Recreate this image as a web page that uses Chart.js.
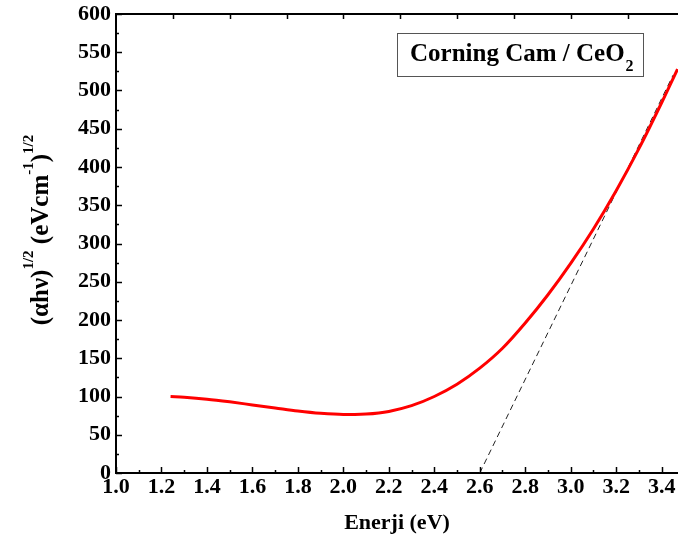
<!DOCTYPE html>
<html>
<head>
<meta charset="utf-8">
<script src="https://cdn.jsdelivr.net/npm/chart.js@4.4.1/dist/chart.umd.min.js"></script>
<style>
  html, body { margin: 0; padding: 0; background: #ffffff; overflow: hidden; }
  #wrap { width: 678px; height: 543px; position: relative; }
</style>
</head>
<body>
<div id="wrap"><canvas id="c" width="678" height="543"></canvas></div>
<script>
// ---- data ----
const energy = [1.24, 1.3, 1.4, 1.5, 1.6, 1.7, 1.8, 1.9, 2.0, 2.05, 2.1, 2.2, 2.3, 2.4, 2.5, 2.6, 2.7, 2.8, 2.9, 3.0, 3.1, 3.2, 3.3, 3.4, 3.47];
const absorption = [100, 99, 96.5, 93, 89, 85, 81, 78, 76.5, 76.5, 77, 80.5, 88, 100, 116, 137, 163, 196, 233, 274, 319, 369, 424, 484, 528];
const tangentX = [2.6, 3.45];
const tangentY = [0, 520];
const xTicks = [1.0, 1.2, 1.4, 1.6, 1.8, 2.0, 2.2, 2.4, 2.6, 2.8, 3.0, 3.2, 3.4];
const yTicks = [0, 50, 100, 150, 200, 250, 300, 350, 400, 450, 500, 550, 600];
const legendLabel = "Corning Cam / CeO";
const legendSub = "2";
const xTitle = "Enerji (eV)";

const FONT = '"Liberation Serif", "Times New Roman", serif';

const curvePts = energy.map((e, i) => ({ x: e, y: absorption[i] }));
const tangentPts = tangentX.map((e, i) => ({ x: e, y: tangentY[i] }));

const framePlugin = {
  id: 'frame',
  afterDraw(chart) {
    const ctx = chart.ctx;
    const xs = chart.scales.x, ys = chart.scales.y;
    const ca = chart.chartArea;
    ctx.save();
    ctx.strokeStyle = '#000';
    // top line
    ctx.lineWidth = 2;
    ctx.beginPath();
    ctx.moveTo(ca.left, ca.top);
    ctx.lineTo(ca.right, ca.top);
    ctx.stroke();
    ctx.lineWidth = 1.5;
    // left axis ticks (inward)
    for (let v = 0; v <= 600; v += 25) {
      const py = Math.round(ys.getPixelForValue(v)) + 0.5;
      const len = (v % 50 === 0) ? 6 : 3;
      ctx.beginPath();
      ctx.moveTo(ca.left, py);
      ctx.lineTo(ca.left + len, py);
      ctx.stroke();
    }
    // bottom axis ticks (inward)
    for (let k = 10; k <= 34; k++) {
      const v = k / 10;
      const px = Math.round(xs.getPixelForValue(v)) + 0.5;
      const len = (k % 2 === 0) ? 6 : 3;
      ctx.beginPath();
      ctx.moveTo(px, ca.bottom);
      ctx.lineTo(px, ca.bottom - len);
      ctx.stroke();
    }
    // top axis ticks (inward)
    for (let k = 5; k <= 13; k++) {
      const v = k * 0.25;
      const px = Math.round(xs.getPixelForValue(v)) + 0.5;
      ctx.beginPath();
      ctx.moveTo(px, ca.top);
      ctx.lineTo(px, ca.top + 5);
      ctx.stroke();
    }

    // legend box
    ctx.lineWidth = 1;
    ctx.strokeStyle = '#555';
    ctx.strokeRect(397.5, 33.5, 246, 43);
    ctx.fillStyle = '#000';
    ctx.textAlign = 'left';
    ctx.textBaseline = 'alphabetic';
    ctx.font = 'bold 25px ' + FONT;
    ctx.fillText(legendLabel, 410, 61);
    const w = ctx.measureText(legendLabel).width;
    ctx.font = 'bold 16px ' + FONT;
    ctx.fillText(legendSub, 410 + w + 1, 71);

    // y-axis title with superscripts
    const parts = [
      { t: '(\u03B1h\u03BD)', sup: false },
      { t: '1/2', sup: true },
      { t: ' (eVcm', sup: false },
      { t: '-1', sup: true },
      { t: ')', sup: false },
      { t: '1/2', sup: true }
    ];
    const mainFont = 'bold 25px ' + FONT;
    const supFont = 'bold 15px ' + FONT;
    let total = 0;
    parts.forEach(p => {
      ctx.font = p.sup ? supFont : mainFont;
      p.w = ctx.measureText(p.t).width;
      total += p.w;
    });
    ctx.translate(48, 230);
    ctx.rotate(-Math.PI / 2);
    let cx = -total / 2;
    parts.forEach(p => {
      ctx.font = p.sup ? supFont : mainFont;
      ctx.fillText(p.t, cx, p.sup ? -15 : 0);
      cx += p.w;
    });
    ctx.restore();
  }
};

new Chart(document.getElementById('c'), {
  type: 'line',
  data: {
    datasets: [
      {
        label: 'tangent',
        data: tangentPts,
        borderColor: '#222',
        borderWidth: 1,
        borderDash: [6, 4],
        pointRadius: 0,
        fill: false,
        order: 2
      },
      {
        label: legendLabel + legendSub,
        data: curvePts,
        borderColor: '#ff0000',
        borderWidth: 3,
        pointRadius: 0,
        cubicInterpolationMode: 'monotone',
        fill: false,
        order: 1
      }
    ]
  },
  options: {
    responsive: false,
    animation: false,
    layout: { padding: { top: 14, left: 0, right: 0, bottom: 0 } },
    plugins: { legend: { display: false }, tooltip: { enabled: false } },
    scales: {
      x: {
        type: 'linear',
        min: 1.0,
        max: 3.472,
        afterBuildTicks: (s) => { s.ticks = xTicks.map(v => ({ value: v })); },
        afterFit: (s) => { s.height = 70; },
        grid: { display: false, drawTicks: false },
        border: { display: true, color: '#000', width: 2 },
        ticks: {
          padding: 1,
          color: '#000',
          font: { family: FONT, size: 22, weight: 'bold' },
          callback: (v) => Number(v).toFixed(1)
        },
        title: {
          display: true,
          text: xTitle,
          color: '#000',
          font: { family: FONT, size: 22, weight: 'bold' },
          padding: { top: 0, bottom: 6 }
        }
      },
      y: {
        min: 0,
        max: 600,
        afterBuildTicks: (s) => { s.ticks = yTicks.map(v => ({ value: v })); },
        afterFit: (s) => { s.width = 116; s.paddingTop = 0; s.paddingBottom = 0; },
        grid: { display: false, drawTicks: false },
        border: { display: true, color: '#000', width: 2 },
        ticks: {
          padding: 5,
          color: '#000',
          font: { family: FONT, size: 22, weight: 'bold', lineHeight: 1.0 }
        }
      }
    }
  },
  plugins: [framePlugin]
});
</script>
</body>
</html>
